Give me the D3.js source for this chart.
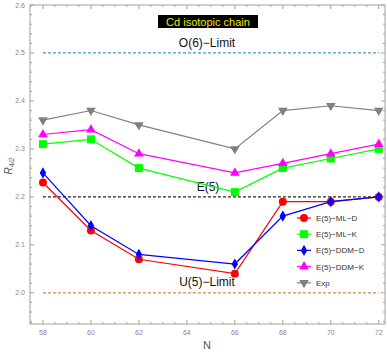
<!DOCTYPE html>
<html lang="en">
<head>
<meta charset="utf-8">
<title>Cd isotopic chain</title>
<script src="https://d3js.org/d3.v7.min.js"></script>
<style>
  body, html { margin: 0; padding: 0; background: #fff; }
  svg { font-family: "Liberation Sans", Arial, sans-serif; }
</style>
</head>
<body>
<script>
var w = 387, h = 354;

var N = [58, 60, 62, 64, 66, 68, 70, 72];
var isotopes = [58, 60, 62, 66, 68, 70, 72];
var yTicks = [2.0, 2.1, 2.2, 2.3, 2.4, 2.5, 2.6];

var mlD  = [2.23, 2.13, 2.07, 2.04, 2.19, 2.19, 2.20];
var mlK  = [2.31, 2.32, 2.26, 2.21, 2.26, 2.28, 2.30];
var ddmD = [2.25, 2.14, 2.08, 2.06, 2.16, 2.19, 2.20];
var ddmK = [2.33, 2.34, 2.29, 2.25, 2.27, 2.29, 2.31];
var exp  = [2.36, 2.38, 2.35, 2.30, 2.38, 2.39, 2.38];

var limits = [
  {name: "O(6)\u2212Limit", value: 2.5, color: "#3a9ad6"},
  {name: "E(5)", value: 2.2, color: "#222"},
  {name: "U(5)\u2212Limit", value: 2.0, color: "#d4863c"}
];

var series = [
  {name: "E(5)\u2212ML\u2212D", values: mlD, color: "#ff0000", shape: "circle"},
  {name: "E(5)\u2212ML\u2212K", values: mlK, color: "#00ff00", shape: "square"},
  {name: "E(5)\u2212DDM\u2212D", values: ddmD, color: "#0000ff", shape: "diamond"},
  {name: "E(5)\u2212DDM\u2212K", values: ddmK, color: "#ff00ff", shape: "triangle"},
  {name: "Exp", values: exp, color: "#808080", shape: "down"}
];

var x = d3.scaleLinear().domain([57.46, 72.26]).range([30, 385]);
var y = d3.scaleLinear().domain([1.935, 2.6]).range([324, 5]);

var svg = d3.select("body").append("svg").attr("width", w).attr("height", h);

// frame
svg.append("rect")
  .attr("x", 30).attr("y", 5).attr("width", 355).attr("height", 319)
  .attr("fill", "none").attr("stroke", "#a0a0a0").attr("stroke-width", 1);

// ticks
var xMinor = d3.range(57.5, 72.3, 0.5);
var yMinor = d3.range(1.94, 2.6001, 0.02);
var tg = svg.append("g").attr("stroke", "#a0a0a0");
xMinor.forEach(function(v) {
  var major = Math.abs(v - Math.round(v / 2) * 2) < 1e-6;
  var len = major ? 4 : 2;
  tg.append("line").attr("x1", x(v)).attr("x2", x(v)).attr("y1", 324).attr("y2", 324 - len);
  tg.append("line").attr("x1", x(v)).attr("x2", x(v)).attr("y1", 5).attr("y2", 5 + len);
});
yMinor.forEach(function(v) {
  var major = Math.abs(v * 10 - Math.round(v * 10)) < 1e-6;
  var len = major ? 4 : 2;
  tg.append("line").attr("y1", y(v)).attr("y2", y(v)).attr("x1", 30).attr("x2", 30 + len);
  tg.append("line").attr("y1", y(v)).attr("y2", y(v)).attr("x1", 385).attr("x2", 385 - len);
});

svg.append("g").selectAll("text").data(N).enter().append("text")
  .attr("x", function(d) { return x(d); }).attr("y", 335)
  .attr("text-anchor", "middle").attr("font-size", 7).attr("fill", "#888")
  .text(function(d) { return d; });

svg.append("g").selectAll("text").data(yTicks).enter().append("text")
  .attr("x", 25).attr("y", function(d) { return y(d) + 2.5; })
  .attr("text-anchor", "end").attr("font-size", 7).attr("fill", "#888")
  .text(function(d) { return d.toFixed(1); });

// axis labels
svg.append("text").attr("x", 207).attr("y", 349).attr("text-anchor", "middle")
  .attr("font-size", 11).attr("fill", "#555").text("N");
var yl = svg.append("text").attr("transform", "translate(12,166) rotate(-90)")
  .attr("text-anchor", "middle").attr("font-size", 10).attr("fill", "#555")
  .attr("font-style", "italic");
yl.append("tspan").text("R");
yl.append("tspan").attr("font-size", 7).attr("dy", 2).text("4/2");

// limit lines
limits.forEach(function(l) {
  svg.append("line")
    .attr("x1", x(58)).attr("x2", x(72)).attr("y1", y(l.value)).attr("y2", y(l.value))
    .attr("stroke", l.color).attr("stroke-width", 1.2).attr("stroke-dasharray", "3,2");
});
svg.append("text").attr("x", 207).attr("y", 47).attr("text-anchor", "middle")
  .attr("font-size", 12).attr("fill", "#111").text(limits[0].name);
svg.append("text").attr("x", 208).attr("y", 191).attr("text-anchor", "middle")
  .attr("font-size", 12).attr("fill", "#111").text(limits[1].name);
svg.append("text").attr("x", 207).attr("y", 286).attr("text-anchor", "middle")
  .attr("font-size", 12).attr("fill", "#111").text(limits[2].name);

// title box
svg.append("rect").attr("x", 158).attr("y", 15).attr("width", 100).attr("height", 13).attr("fill", "#000");
svg.append("text").attr("x", 208).attr("y", 25.5).attr("text-anchor", "middle")
  .attr("font-size", 11).attr("fill", "#e8e800").text("Cd isotopic chain");

// symbols
var sym = {
  circle: d3.symbol().type(d3.symbolCircle).size(50),
  square: d3.symbol().type(d3.symbolSquare).size(64),
  diamond: d3.symbol().type(d3.symbolDiamond).size(36),
  triangle: d3.symbol().type(d3.symbolTriangle).size(40),
  down: d3.symbol().type(d3.symbolTriangle).size(40)
};

var line = d3.line().x(function(d) { return x(d[0]); }).y(function(d) { return y(d[1]); });

series.forEach(function(s) {
  var pts = isotopes.map(function(n, i) { return [n, s.values[i]]; });
  svg.append("path").datum(pts).attr("d", line)
    .attr("fill", "none").attr("stroke", s.color).attr("stroke-width", 1.2);
  svg.append("g").selectAll("path").data(pts).enter().append("path")
    .attr("d", sym[s.shape])
    .attr("transform", function(d) {
      return "translate(" + x(d[0]) + "," + y(d[1]) + ")" + (s.shape === "down" ? " rotate(180)" : "");
    })
    .attr("fill", s.color);
});

// legend
var lg = svg.append("g").attr("transform", "translate(304,218)");
series.forEach(function(s, i) {
  var row = lg.append("g").attr("transform", "translate(0," + (i * 16.2) + ")");
  row.append("line").attr("x1", -7).attr("x2", 7).attr("stroke", s.color).attr("stroke-width", 1.2);
  row.append("path").attr("d", sym[s.shape])
    .attr("transform", s.shape === "down" ? "rotate(180)" : null)
    .attr("fill", s.color);
  row.append("text").attr("x", 12).attr("y", 3).attr("font-size", 8).attr("fill", "#333").text(s.name);
});
</script>
</body>
</html>
